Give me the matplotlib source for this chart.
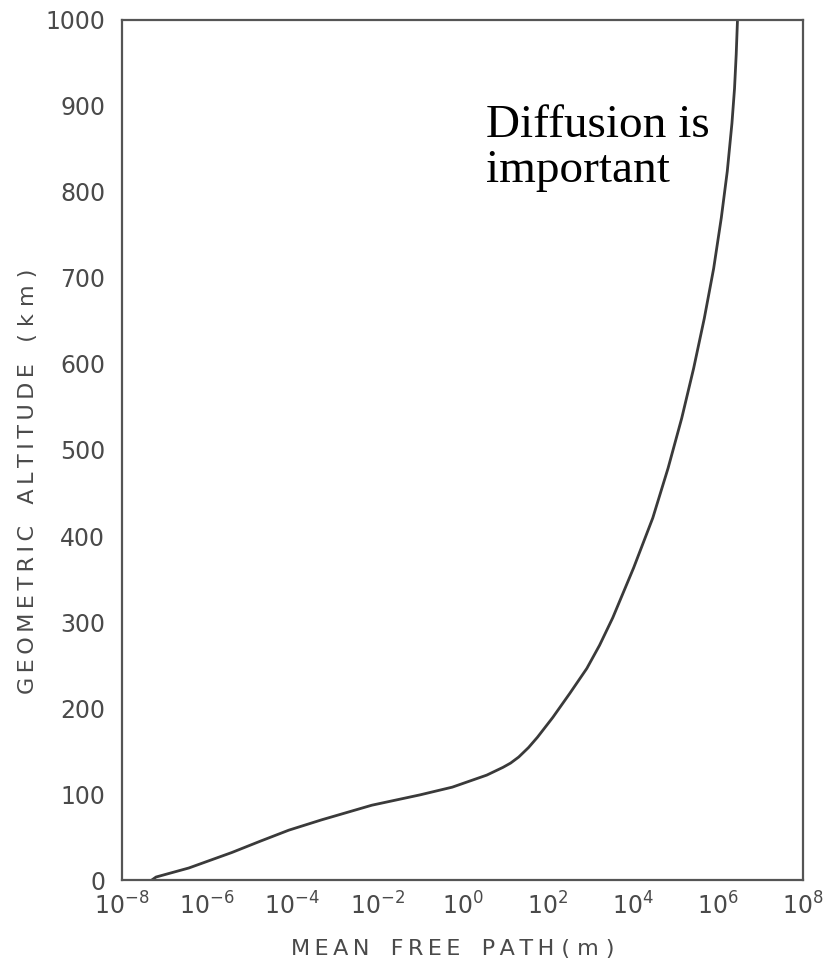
import numpy as np
import matplotlib.pyplot as plt
from matplotlib.ticker import FixedLocator, FuncFormatter

# mean free path vs geometric altitude (log10 of metres)
altitude_km = [0, 3.5, 14, 32, 45, 58, 70, 87, 99, 108, 122, 131, 136, 143,
               154, 166, 189, 217, 246, 273, 305, 363, 421, 479, 537, 595,
               653, 711, 770, 824, 880, 920, 960, 1000]
log_mfp = [-7.3, -7.2, -6.43, -5.42, -4.76, -4.08, -3.31, -2.13, -1.0, -0.24,
           0.57, 0.95, 1.13, 1.32, 1.55, 1.76, 2.12, 2.52, 2.92, 3.22, 3.53,
           4.02, 4.47, 4.83, 5.15, 5.43, 5.68, 5.9, 6.08, 6.22, 6.33, 6.39,
           6.43, 6.46]

x_exponents = [-8, -6, -4, -2, 0, 2, 4, 6, 8]
y_ticks = [0, 100, 200, 300, 400, 500, 600, 700, 800, 900, 1000]

ink = '#4a4a4a'
gap = '\u2009'


def spaced(s):
    return gap.join(s)


fig = plt.figure(figsize=(8.26, 9.64), dpi=100)
ax = fig.add_axes([0.1477, 0.0871, 0.8245, 0.8922])

mfp = 10.0 ** np.array(log_mfp)
ax.plot(mfp, altitude_km, color='#3a3a3a', lw=2.0,
        solid_capstyle='round', solid_joinstyle='round')

ax.set_xscale('log')
ax.set_xlim(1e-8, 1e8)
ax.set_ylim(0, 1000)

ax.xaxis.set_major_locator(FixedLocator([10.0 ** e for e in x_exponents]))
ax.xaxis.set_minor_locator(FixedLocator([]))
ax.xaxis.set_major_formatter(FuncFormatter(
    lambda v, p: r'$\mathregular{10^{%d}}$' % round(np.log10(v))))
ax.set_yticks(y_ticks)

ax.tick_params(axis='both', length=0, labelsize=17, labelcolor=ink)
ax.tick_params(axis='x', pad=9)
ax.tick_params(axis='y', pad=12)

for sp in ax.spines.values():
    sp.set_color('#555555')
    sp.set_linewidth(1.6)

ax.set_xlabel(spaced('MEAN') + '   ' + spaced('FREE') + '   ' + spaced('PATH') + ' ( m )',
              fontsize=16, color=ink)
ax.xaxis.set_label_coords(0.485, -0.068)
ax.xaxis.label.set_va('top')

ax.set_ylabel(spaced('GEOMETRIC') + '   ' + spaced('ALTITUDE') + '   ( k m )',
              fontsize=16, color=ink)
ax.yaxis.set_label_coords(-0.123, 0.464)

ax.text(0.535, 0.902, 'Diffusion is\nimportant', transform=ax.transAxes,
        family='Liberation Serif', fontsize=34, color='black',
        va='top', ha='left', linespacing=1.1)

fig.savefig('out.png', dpi=100)
